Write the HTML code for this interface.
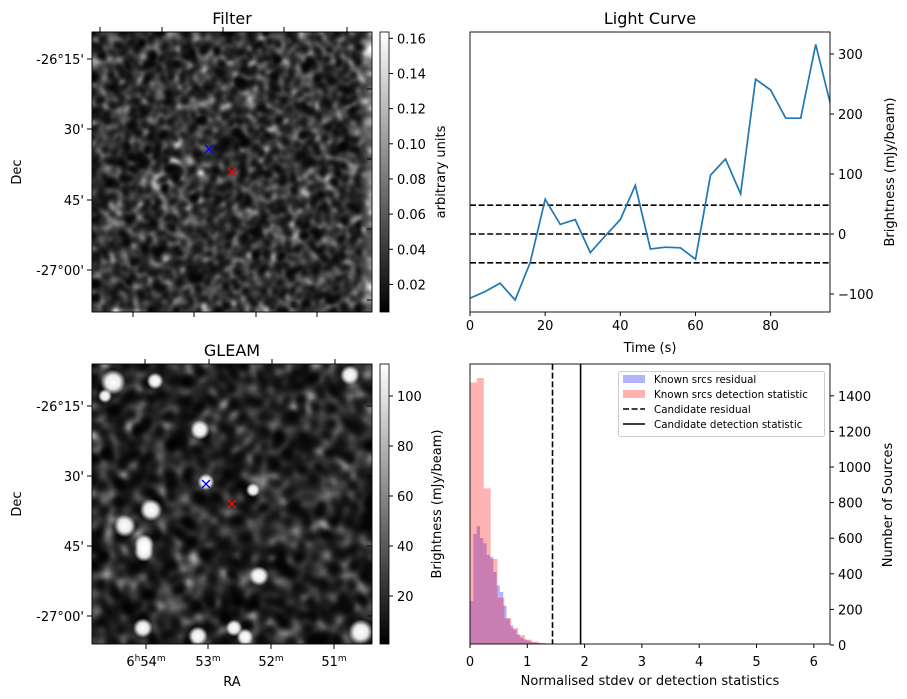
<!DOCTYPE html>
<html><head><meta charset="utf-8">
<style>
body{margin:0;background:#fff;width:907px;height:699px;overflow:hidden;position:relative;font-family:"DejaVu Sans","Liberation Sans",sans-serif;}
canvas{position:absolute;}
svg{position:absolute;left:0;top:0;}
text{font-family:"DejaVu Sans","Liberation Sans",sans-serif;fill:#000;}
</style></head>
<body>
<canvas id="filterImg" width="280" height="280" style="left:92px;top:32px"></canvas>
<canvas id="gleamImg" width="280" height="280" style="left:92px;top:364px"></canvas>
<svg id="root" width="907" height="699">
<defs>
<linearGradient id="cbg" x1="0" y1="1" x2="0" y2="0"><stop offset="0" stop-color="#000"/><stop offset="1" stop-color="#fff"/></linearGradient>
<clipPath id="lcClip"><rect x="470" y="32" width="360" height="280"/></clipPath>
<clipPath id="hClip"><rect x="470" y="364" width="360" height="280"/></clipPath>
</defs>
<g id="static"></g>
</svg>
<script>
// ---- Light curve data ----
const lcTimes = [0,4,8,12,16,20,24,28,32,36,40,44,48,52,56,60,64,68,72,76,80,84,88,92,96];
const lcValues = [-107,-96,-82,-110,-48,58,16,24,-31,-3,24,81,-25,-22,-23,-42,98,125,67,258,240,193,193,316,214];
const lcLevels = [-48,0,48];
const lcXTicks = [0,20,40,60,80];
const lcYTicks = [-100,0,100,200,300];
// ---- Histogram data ----
const redBinWidth = 0.12;
const redCounts = [1475,1500,880,483,266,150,95,55,30,18,12,8,6,5,4,3,3,2,2,1,0,0,3,4,4,0,0,0,0,0,0,0,0,0,0,0,0,0,0,0,0,0,0,0,0,0,0,0,0,4];
const blueBinWidth = 0.058;
const blueCounts = [247,624,668,601,571,506,495,410,335,298,220,150,110,85,60,42,32,25,18,15,12,10,8,6,5,4,3,3,2,2,2,2,1,1,1,1,1,1,1,0,0,0,0,0,0,0,0,0,0,0,0,0,0,3];
const candResidual = 1.44;
const candDetection = 1.93;
const hXTicks = [0,1,2,3,4,5,6];
const hYTicks = [0,200,400,600,800,1000,1200,1400];
// ---- Colorbar ticks ----
const filterCbTicks = [0.02,0.04,0.06,0.08,0.10,0.12,0.14,0.16];
const gleamCbTicks = [20,40,60,80,100];
const decLabels = ["-26°15'","30'","45'","-27°00'"];

const NS="http://www.w3.org/2000/svg";
const root=document.getElementById('static');
function mk(tag,attrs,parent){const e=document.createElementNS(NS,tag);for(const k in attrs)e.setAttribute(k,attrs[k]);(parent||root).appendChild(e);return e;}
function txt(x,y,s,size,anchor,extra){const t=mk('text',Object.assign({x:x,y:y,'font-size':size,'text-anchor':anchor||'middle'},extra||{}));t.textContent=s;return t;}

// ===== Light curve =====
const lcX=t=>470+(t-0)*(360/95.8);
const lcY=v=>234-v*0.6;
const lcG=mk('g',{'clip-path':'url(#lcClip)'});


lcLevels.forEach(l=>{const ln=mk('line',{x1:470,x2:830,y1:lcY(l),y2:lcY(l),stroke:'#000','stroke-width':1.6,'stroke-dasharray':'6,2.6'},lcG);

});
const lcPts=lcTimes.map((t,i)=>lcX(t).toFixed(1)+','+lcY(lcValues[i]).toFixed(1)).join(' ');
const lcLine=mk('polyline',{points:lcPts,fill:'none',stroke:'#1f77b4','stroke-width':1.7},lcG);


const lcFrame=mk('rect',{x:470,y:32,width:360,height:280,fill:'none',stroke:'#000','stroke-width':0.9});


lcXTicks.forEach(t=>{mk('line',{x1:lcX(t),x2:lcX(t),y1:312,y2:316,stroke:'#000'});const tl=txt(lcX(t),330,String(t),13);

});
lcYTicks.forEach(v=>{mk('line',{x1:830,x2:834,y1:lcY(v),y2:lcY(v),stroke:'#000'});const tl=txt(838,lcY(v)+5,v<0?'\u2212'+(-v):String(v),13,'start');

});
let t1=txt(650,24,'Light Curve',16);


t1=txt(650,352,'Time (s)',13);


t1=txt(0,0,'Brightness (mJy/beam)',13,'middle',{transform:'translate(894,172) rotate(-90)'});



// ===== Histogram =====
const hX=v=>470+v*57.3;
const hY=c=>645-c*0.178;
const hG=mk('g',{'clip-path':'url(#hClip)'});


blueCounts.forEach((c,i)=>{if(c<=0)return;const r=mk('rect',{x:hX(i*blueBinWidth),width:hX(blueBinWidth)-470,y:hY(c),height:645-hY(c),fill:'rgba(0,0,255,0.3)'},hG);

});
redCounts.forEach((c,i)=>{if(c<=0)return;const r=mk('rect',{x:hX(i*redBinWidth),width:hX(redBinWidth)-470,y:hY(c),height:645-hY(c),fill:'rgba(255,0,0,0.3)'},hG);

});
let vl=mk('line',{x1:hX(candResidual),x2:hX(candResidual),y1:364,y2:644,stroke:'#000','stroke-width':1.6,'stroke-dasharray':'6,2.6'},hG);


vl=mk('line',{x1:hX(candDetection),x2:hX(candDetection),y1:364,y2:644,stroke:'#000','stroke-width':1.6},hG);


const hFrame=mk('rect',{x:470,y:364,width:360,height:280,fill:'none',stroke:'#000','stroke-width':0.9});


hXTicks.forEach(v=>{mk('line',{x1:hX(v),x2:hX(v),y1:644,y2:648,stroke:'#000'});const tl=txt(hX(v),666,String(v),13);

});
hYTicks.forEach(v=>{mk('line',{x1:830,x2:834,y1:hY(v),y2:hY(v),stroke:'#000'});const tl=txt(838,hY(v)+5,String(v),13,'start');

});
t1=txt(650,685,'Normalised stdev or detection statistics',13);


t1=txt(0,0,'Number of Sources',13,'middle',{transform:'translate(892,505) rotate(-90)'});


// legend
const lg=mk('g',{});


mk('rect',{x:618.5,y:371.5,width:206,height:65,rx:2,fill:'rgba(255,255,255,0.8)',stroke:'#ccc'},lg);
mk('rect',{x:623,y:375,width:22,height:8,fill:'rgba(0,0,255,0.3)'},lg);
mk('rect',{x:623,y:390,width:22,height:8,fill:'rgba(255,0,0,0.3)'},lg);
mk('line',{x1:623,x2:645,y1:409,y2:409,stroke:'#000','stroke-width':1.6,'stroke-dasharray':'6,2.6'},lg);
mk('line',{x1:623,x2:645,y1:424,y2:424,stroke:'#000','stroke-width':1.6},lg);
['Known srcs residual','Known srcs detection statistic','Candidate residual','Candidate detection statistic'].forEach((s,i)=>{const e=mk('text',{x:654,y:383+i*15,'font-size':10.3},lg);e.textContent=s;

});

// ===== Image panel axes =====
function imgPanel(top,title,cbTicks,cbMin,cbMax,decimals,cbLabel,cbLabelX,bottomTicks,topTicks,rightTicks,leftTicks){
  const fr=mk('rect',{x:92,y:top,width:280,height:280,fill:'none',stroke:'#000','stroke-width':0.9});
  
  
  topTicks.forEach(x=>mk('line',{x1:x,x2:x,y1:top,y2:top-5,stroke:'#000'}));
  bottomTicks.forEach(x=>mk('line',{x1:x,x2:x,y1:top+280,y2:top+285,stroke:'#000'}));
  rightTicks.forEach(y=>mk('line',{x1:372,x2:367,y1:y,y2:y,stroke:'#000'}));
  leftTicks.forEach((y,i)=>{mk('line',{x1:92,x2:87,y1:y,y2:y,stroke:'#000'});const tl=txt(84,y+5,decLabels[i],13,'end');
  
  });
  let tt=txt(232,top-8,title,16);
  
  
  tt=txt(0,0,'Dec',13,'middle',{transform:'translate(21,'+(top+140)+') rotate(-90)'});
  
  
  const cb=mk('rect',{x:380,y:top,width:9,height:280,fill:'url(#cbg)',stroke:'#000','stroke-width':0.8});
  
  
  cbTicks.forEach(v=>{const y=top+280-(v-cbMin)/(cbMax-cbMin)*280;mk('line',{x1:389,x2:393,y1:y,y2:y,stroke:'#000'});
    const tl=txt(397,y+5,v.toFixed(decimals),13,'start');
    
    });
  tt=txt(0,0,cbLabel,13,'middle',{transform:'translate('+cbLabelX+','+(top+140)+') rotate(-90)'});
  
  
}
imgPanel(32,'Filter',filterCbTicks,0.0043,0.1636,2,'arbitrary units',445,[133,194,256,317],[100,162,223,284,347],[89,159,229,300],[59,129,200,270]);
imgPanel(364,'GLEAM',gleamCbTicks,0.8,112.8,0,'Brightness (mJy/beam)',441,[146,208,271,334],[145,209,272,335],[406,476,546,616],[406,476,546,616]);
[['6','h','54','m',146],['','','53','m',208],['','','52','m',271],['','','51','m',334]].forEach(a=>{
  const t=mk('text',{x:a[4],y:666,'font-size':13,'text-anchor':'middle'});
  
  
  let h='';if(a[0])h+=a[0]+'<tspan dy="-5" font-size="9">h</tspan><tspan dy="5">'+a[2]+'</tspan><tspan dy="-5" font-size="9">m</tspan>';
  else h+=a[2]+'<tspan dy="-5" font-size="9">m</tspan>';
  t.innerHTML=h;});
t1=txt(232,686,'RA',13);


function cross(x,y,c,name){const g=mk('g',{stroke:c,'stroke-width':1.3});mk('line',{x1:x-4,y1:y-4,x2:x+4,y2:y+4},g);mk('line',{x1:x-4,y1:y+4,x2:x+4,y2:y-4},g);

}
cross(209,149,'#00f','known-source-marker');cross(232,172,'#f00','candidate-marker');
cross(206,484,'#00f','known-source-marker');cross(232,504,'#f00','candidate-marker');

// ===== Images (procedural texture: random field + blur) =====
let seedState=987654321;
function rnd(){seedState|=0;seedState=(seedState+0x6D2B79F5)|0;let t=Math.imul(seedState^(seedState>>>15),1|seedState);t=(t+Math.imul(t^(t>>>7),61|t))^t;return((t^(t>>>14))>>>0)/4294967296;}
function blurField(rad,passes){let a=new Float32Array(280*280);for(let i=0;i<a.length;i++)a[i]=rnd();
  const N=280;
  for(let p=0;p<passes;p++){
    const b=new Float32Array(N*N);
    for(let y=0;y<N;y++)for(let x=0;x<N;x++){let s=0,c=0;for(let k=-rad;k<=rad;k++){const xx=x+k;if(xx<0||xx>=N)continue;s+=a[y*N+xx];c++;}b[y*N+x]=s/c;}
    const d=new Float32Array(N*N);
    for(let y=0;y<N;y++)for(let x=0;x<N;x++){let s=0,c=0;for(let k=-rad;k<=rad;k++){const yy=y+k;if(yy<0||yy>=N)continue;s+=b[yy*N+x];c++;}d[y*N+x]=s/c;}
    a=d;}
  let mn=1e9,mx=-1e9;for(const v of a){if(v<mn)mn=v;if(v>mx)mx=v;}
  for(let i=0;i<a.length;i++)a[i]=(a[i]-mn)/(mx-mn);return a;}
function paint(ctx,f,base,amp,pow,extra){const d=ctx.createImageData(280,280);
  for(let i=0;i<280*280;i++){const x=i%280;let v=base+amp*Math.pow(f[i],pow)+(extra?extra(x):0);v=Math.max(0,Math.min(255,v));
    d.data[i*4]=d.data[i*4+1]=d.data[i*4+2]=v;d.data[i*4+3]=255;}ctx.putImageData(d,0,0);}
const fc=document.getElementById('filterImg').getContext('2d');
paint(fc,blurField(2,3),5,230,2.2,x=>x>266?(x-266)*6:0);
const gc=document.getElementById('gleamImg').getContext('2d');
paint(gc,blurField(3,3),3,170,2.6,null);
const blobs=[[113,382,9],[155,381,6],[105,396,5],[200,430,7],[151,510,8],[125,526,8],[144,544,7],[144,552,7],[259,576,7],[143,628,7],[198,636,7],[234,628,6],[245,637,6],[350,375,7],[361,632,9],[206,482,6],[253,490,5]];
blobs.forEach(b=>{const x=b[0]-92,y=b[1]-364,r=b[2]*1.4;const g=gc.createRadialGradient(x,y,0,x,y,r);g.addColorStop(0,'rgba(255,255,255,1)');g.addColorStop(0.55,'rgba(255,255,255,0.9)');g.addColorStop(1,'rgba(255,255,255,0)');gc.fillStyle=g;gc.beginPath();gc.arc(x,y,r,0,7);gc.fill();});
</script>
</body></html>
